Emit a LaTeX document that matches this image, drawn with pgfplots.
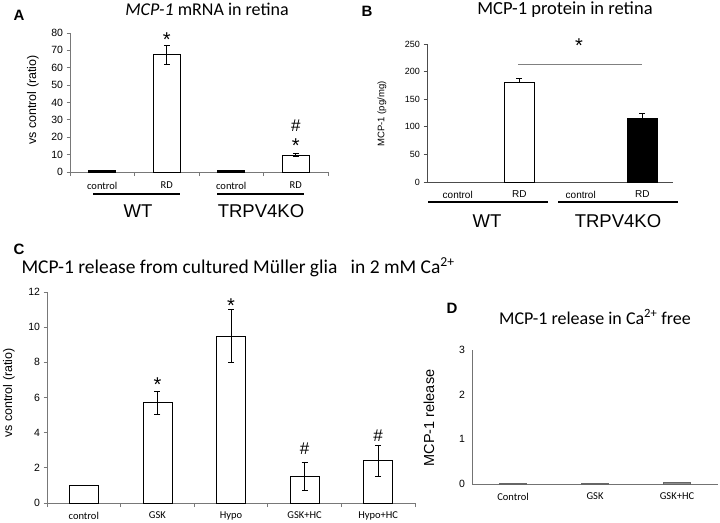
\documentclass[border=0pt]{standalone}
\usepackage{fontspec}
\setmainfont{Liberation Sans}
\newfontfamily\calib{Carlito}
\usepackage{pgfplots}
\pgfplotsset{compat=1.18}
\definecolor{axgray}{RGB}{120,120,120}
\newcommand{\fs}[1]{\fontsize{#1bp}{#1bp}\selectfont}
\pgfplotsset{
  panel/.style={
    scale only axis,
    anchor=south west,
    axis x line*=bottom, axis y line*=left,
    axis line style={axgray, line width=0.9bp},
    tick align=outside,
    major tick length=3.5bp,
    minor tick length=4bp,
    every tick/.style={axgray, line width=0.8bp},
    ymin=0,
    /pgf/number format/assume math mode=true,
    yticklabel style={font=\fs{10.5}},
    xticklabel style={font=\calib\fs{10.5}},
    clip=false,
    ybar, bar shift=0pt,
    error bars/error bar style={black, line width=0.7bp},
    error bars/error mark options={rotate=90, mark size=3bp, black, line width=0.7bp},
  },
}
\begin{document}
\begin{tikzpicture}
\useasboundingbox (0,0) rectangle (720bp,-523bp);

% ---------------- Panel A ----------------
\begin{axis}[panel, at={(70bp,-172bp)}, width=258bp, height=139bp,
  xmin=-0.5, xmax=3.5, ymax=80, ytick={0,10,...,80},
  xtick={0,1,2,3}, xticklabels={control,RD,control,RD},
  major x tick style={draw=none},
  minor xtick={-0.5,0.5,1.5,2.5,3.5},
  xticklabel style={yshift=-3bp},
  bar width=27bp]
\addplot[fill=black, draw=black, line width=0.8bp] coordinates {(0,1) (2,1)};
\addplot[fill=white, draw=black, line width=0.8bp,
  error bars/.cd, y dir=both, y explicit]
  coordinates {(1,67.5) +- (0,5.5) (3,9.7) +- (0,0.8)};
\node[font=\fs{20}] at (axis cs:1,76) {*};
\node[font=\fs{20}] at (axis cs:3,15) {*};
\node[font=\fs{17}] at (axis cs:3,26.5) {\#};
\end{axis}
\node[font=\bfseries\fs{15}] at (19bp,-15bp) {A};
\node[font=\calib\fs{18}] at (207bp,-9bp) {\textit{MCP-1} mRNA in retina};
\node[rotate=90, font=\fs{12.5}] at (33bp,-100bp) {vs control (ratio)};
\draw[black, line width=1.2bp] (93bp,-194bp) -- (180bp,-194bp);
\draw[black, line width=1.2bp] (217bp,-194bp) -- (304bp,-194bp);
\node[font=\fs{18.5}] at (138bp,-211bp) {WT};
\node[font=\fs{18.5}] at (261bp,-211bp) {TRPV4KO};

% ---------------- Panel B ----------------
\begin{axis}[panel, at={(427bp,-182bp)}, width=246bp, height=138bp,
  xmin=-0.5, xmax=3.5, ymax=250, ytick={0,50,...,250},
  axis line style={black!70, line width=0.9bp},
  every tick/.style={black!70, line width=0.8bp},
  yticklabel style={font=\fs{9}},
  xtick={0,1,2,3}, xticklabels={control,RD,control,RD},
  xticklabel style={font=\fs{10}, yshift=-2bp},
  major x tick style={draw=none},
  bar width=30bp]
\addplot[fill=white, draw=black, line width=0.8bp,
  error bars/.cd, y dir=plus, y explicit]
  coordinates {(1,180) +- (0,7)};
\addplot[fill=black, draw=black, line width=0.8bp,
  error bars/.cd, y dir=plus, y explicit]
  coordinates {(3,115) +- (0,9)};
\end{axis}
\draw[black!50, line width=1bp] (518bp,-64bp) -- (642bp,-64bp);
\node[font=\fs{20}] at (579bp,-46bp) {*};
\node[font=\bfseries\fs{15}] at (367bp,-11bp) {B};
\node[font=\calib\fs{18.5}] at (565bp,-10bp) {MCP-1 protein in retina};
\node[rotate=90, font=\fs{9.5}] at (382bp,-114bp) {MCP-1 (pg/mg)};
\draw[black, line width=1.3bp] (428bp,-202bp) -- (548bp,-202bp);
\draw[black, line width=1.3bp] (558bp,-202bp) -- (678bp,-202bp);
\node[font=\fs{18.5}] at (487bp,-221bp) {WT};
\node[font=\fs{18.5}] at (618bp,-221bp) {TRPV4KO};

% ---------------- Panel C ----------------
\begin{axis}[panel, at={(47bp,-503bp)}, width=368bp, height=211bp,
  xmin=-0.5, xmax=4.5, ymax=12, ytick={0,2,...,12},
  xtick={0,1,2,3,4}, xticklabels={control,GSK,Hypo,GSK+HC,Hypo+HC},
  major x tick style={draw=none},
  minor xtick={-0.5,0.5,1.5,2.5,3.5,4.5},
  xticklabel style={yshift=-2bp},
  bar width=29bp]
\addplot[fill=white, draw=black, line width=0.8bp,
  error bars/.cd, y dir=both, y explicit]
  coordinates {(0,1.0) +- (0,0) (1,5.7) +- (0,0.65) (2,9.5) +- (0,1.52) (3,1.5) +- (0,0.8) (4,2.4) +- (0,0.9)};
\node[font=\fs{20}] at (axis cs:1,6.75) {*};
\node[font=\fs{20}] at (axis cs:2,11.2) {*};
\node[font=\fs{17}] at (axis cs:3,3.1) {\#};
\node[font=\fs{17}] at (axis cs:4,3.85) {\#};
\end{axis}
\node[font=\bfseries\fs{15}] at (19bp,-249bp) {C};
\node[font=\calib\fs{19.5}, anchor=west] at (18bp,-267bp) {MCP-1 release from cultured Müller glia\ \ \ in 2 mM Ca\textsuperscript{2+}};
\node[rotate=90, font=\fs{12.5}] at (9bp,-393bp) {vs control (ratio)};

% ---------------- Panel D ----------------
\begin{axis}[panel, at={(472bp,-484bp)}, width=246bp, height=134bp,
  xmin=-0.5, xmax=2.5, ymax=3, ytick={0,1,2,3},
  axis line style={black!55, line width=0.9bp},
  every tick/.style={draw=none},
  xtick={0,1,2}, xticklabels={Control,GSK,GSK+HC},
  xticklabel style={yshift=-2bp},
  bar width=27bp]
\addplot[fill=black!45, draw=black!60, line width=0.6bp] coordinates {(0,0.01) (1,0.02) (2,0.035)};
\end{axis}
\node[font=\bfseries\fs{15}] at (452bp,-308bp) {D};
\node[font=\calib\fs{18}] at (595bp,-317bp) {MCP-1 release in Ca\textsuperscript{2+} free};
\node[rotate=90, font=\fs{14.5}] at (429bp,-418bp) {MCP-1 release};
\end{tikzpicture}
\end{document}
